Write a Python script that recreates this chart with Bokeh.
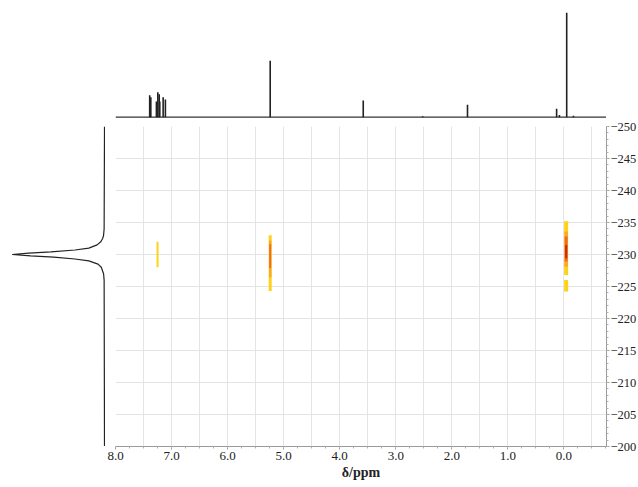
import numpy as np
from bokeh.plotting import figure
from bokeh.models import Range1d, FixedTicker, PrintfTickFormatter, ColumnDataSource, Spacer
from bokeh.layouts import column, row
from bokeh.embed import file_html
from bokeh.resources import INLINE

# ---- data ----
# top (1H) projection: peak positions (ppm) and relative heights
h_ppm = [7.39, 7.37, 7.27, 7.245, 7.22, 7.21, 7.15, 7.11, 5.24, 3.58, 2.52, 1.72, 0.13, 0.08, -0.05, -0.17]
h_int = [0.21, 0.19, 0.15, 0.24, 0.22, 0.15, 0.19, 0.17, 0.54, 0.16, 0.01, 0.12, 0.08, 0.02, 1.00, 0.015]

# left (F1) projection: shift and relative intensity
f1_shift = [-250, -234.0, -233.0, -232.5, -232.0, -231.5, -231.0, -230.7, -230.4, -230.2, -230.0,
            -229.8, -229.6, -229.3, -229.0, -228.5, -228.0, -227.0, -226.0, -200]
f1_int = [0.0, 0.004, 0.01, 0.02, 0.04, 0.08, 0.17, 0.32, 0.58, 0.82, 1.0,
          0.80, 0.55, 0.32, 0.17, 0.07, 0.035, 0.01, 0.004, 0.0]

# 2D cross peaks: one entry per contour band (x, y from, y to, contour level)
cp_x = [7.25, 5.24, 5.24, 5.24, -0.04, -0.04, -0.04, -0.04, -0.04]
cp_y0 = [-232.0, -233.0, -232.2, -231.6, -235.2, -233.6, -232.8, -231.5, -226.0]
cp_y1 = [-228.0, -224.3, -226.4, -227.9, -226.8, -228.1, -228.9, -229.4, -224.2]
cp_level = [0, 0, 1, 2, 0, 1, 2, 3, 0]
cp_nlev = [1, 3, 3, 3, 4, 4, 4, 4, 4]   # number of contour levels of the peak the band belongs to

x_ticks = [0, 1, 2, 3, 4, 5, 6, 7, 8]
y_ticks = [-250, -245, -240, -235, -230, -225, -220, -215, -210, -205, -200]

# ---- styling ----
FONT = "Liberation Serif"
level_colors = ["#FFD21A", "#F9A82A", "#EF6A22", "#C92A1E"]
outer_w = {1: 2.0, 3: 3.0, 4: 4.0}

X_START, X_END = 8.0, -0.76
Y_BOTTOM, Y_TOP = -200, -250

# ---- main 2D plot ----
p = figure(frame_width=491, frame_height=320,
           x_range=Range1d(X_START, X_END), y_range=Range1d(Y_BOTTOM, Y_TOP),
           output_backend="svg", toolbar_location=None,
           x_axis_location="below", y_axis_location="right",
           min_border_left=10, min_border_top=8, min_border_right=0, min_border_bottom=0)
p.outline_line_color = None
p.background_fill_color = "white"

src = ColumnDataSource(dict(
    x=cp_x,
    y=[(a + b) / 2 for a, b in zip(cp_y0, cp_y1)],
    h=[abs(b - a) for a, b in zip(cp_y0, cp_y1)],
    w=[outer_w[n] - 0.6 * lv for n, lv in zip(cp_nlev, cp_level)],
    c=[level_colors[lv] for lv in cp_level],
))
p.rect(x="x", y="y", width="w", height="h", width_units="screen", source=src,
       fill_color="c", line_color=None)

# axes
xa = p.xaxis[0]
xa.ticker = FixedTicker(ticks=x_ticks, minor_ticks=list(np.arange(-0.75, 8.01, 0.25)))
xa.formatter = PrintfTickFormatter(format="%.1f")
xa.axis_label = "δ/ppm"
xa.axis_label_text_font = FONT
xa.axis_label_text_font_style = "bold"
xa.axis_label_text_font_size = "14px"
xa.axis_label_text_color = "#222222"
xa.axis_label_standoff = 2

ya = p.yaxis[0]
ya.ticker = FixedTicker(ticks=y_ticks, minor_ticks=list(range(-250, -199)))

for ax in (xa, ya):
    ax.axis_line_color = "#9a9a9a"
    ax.major_tick_line_color = "#9a9a9a"
    ax.minor_tick_line_color = "#b0b0b0"
    ax.major_tick_out = 3
    ax.major_tick_in = 0
    ax.minor_tick_out = 2
    ax.minor_tick_in = 0
    ax.major_label_text_font = FONT
    ax.major_label_text_font_size = "13px"
    ax.major_label_text_color = "#222222"
    ax.major_label_standoff = 2
ya.major_label_text_font_size = "12.5px"
ya.major_label_standoff = 1

p.xgrid.ticker = FixedTicker(ticks=list(np.arange(-0.5, 8.01, 0.5)))
p.ygrid.ticker = FixedTicker(ticks=y_ticks)
p.xgrid.grid_line_color = "#e4e4e4"
p.ygrid.grid_line_color = "#e4e4e4"

# ---- top 1H projection ----
top = figure(frame_width=491, frame_height=110, x_range=p.x_range,
             y_range=Range1d(-0.0125, 1.041),
             output_backend="svg", toolbar_location=None,
             min_border_left=10, min_border_right=0, min_border_top=0, min_border_bottom=0)
top.axis.visible = False
top.grid.visible = False
top.outline_line_color = None
top.line(x=[X_START, X_END], y=[0, 0], line_color="#333333", line_width=1.2)
top.segment(x0=h_ppm, y0=[0] * len(h_ppm), x1=h_ppm, y1=h_int, line_color="#222222", line_width=1.6)

# ---- left F1 projection ----
left = figure(frame_width=105, frame_height=320, x_range=Range1d(1.1267, -0.0108), y_range=p.y_range,
              output_backend="svg", toolbar_location=None,
              min_border_left=0, min_border_right=0, min_border_top=8, min_border_bottom=0)
left.axis.visible = False
left.grid.visible = False
left.outline_line_color = None
left.line(x=f1_int, y=f1_shift, line_color="#222222", line_width=1.2)

layout = column(Spacer(width=10, height=8),
                row(Spacer(width=105, height=110), top),
                row(left, p))

open("out.html", "w").write(file_html(layout, INLINE))
